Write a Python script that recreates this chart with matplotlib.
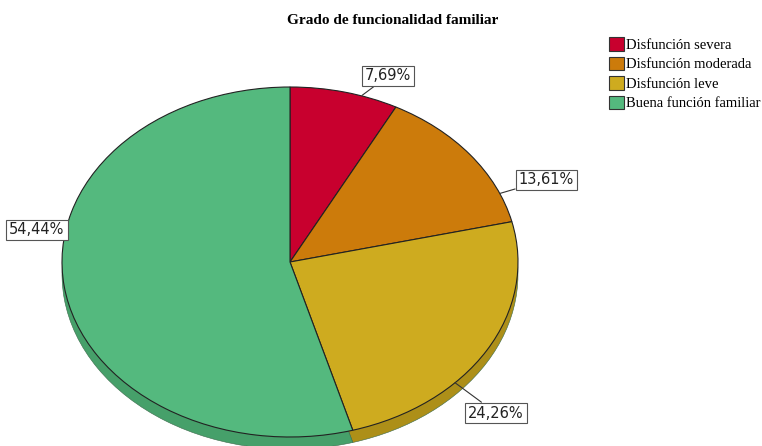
import matplotlib.pyplot as plt
from matplotlib.patches import Patch

categories = ["Disfunción severa", "Disfunción moderada", "Disfunción leve", "Buena función familiar"]
percentages = [7.69, 13.61, 24.26, 54.44]
label_texts = ["7,69%", "13,61%", "24,26%", "54,44%"]

colors = ["#C8002E", "#CC7B0B", "#CEAB1F", "#54B97E"]
side_colors = ["#9A0023", "#A66108", "#AD8F18", "#46A06A"]

# label box centres and leader start points, in pie units (radius 1)
label_pos = [(0.43, 1.063), (1.123, 0.469), (0.904, -0.863), (-1.11, 0.183)]
leader_pos = [(0.316, 0.952), (0.921, 0.392), (0.724, -0.69), (-1.0, 0.154)]

fig = plt.figure(figsize=(7.62, 4.46), dpi=100)
W, H = 762, 446
# ellipse: centre (290, 262) px, rx 228, ry 175
ax = fig.add_axes([62 / W, (H - 437) / H, 456 / W, 350 / H])

depth = 0.07
side, _ = ax.pie(percentages, colors=side_colors, startangle=90, counterclock=False,
                 center=(0, -depth), radius=1,
                 wedgeprops=dict(edgecolor="#3a6a4a", linewidth=0.4))
top, _ = ax.pie(percentages, colors=colors, startangle=90, counterclock=False,
                radius=1, wedgeprops=dict(edgecolor="#222222", linewidth=0.8))
for w in side + top:
    w.set_clip_on(False)

ax.set_aspect("auto")
ax.set_xlim(-1, 1)
ax.set_ylim(-1, 1)
ax.axis("off")

for txt, lp, sp in zip(label_texts, label_pos, leader_pos):
    ax.annotate(txt, xy=sp, xytext=lp, ha="center", va="center", fontsize=10.5,
                color="#222222", annotation_clip=False,
                bbox=dict(boxstyle="square,pad=0.2", fc="white", ec="#555555", lw=0.8),
                arrowprops=dict(arrowstyle="-", color="#333333", lw=0.8,
                                shrinkA=0, shrinkB=0))

fig.text(393 / W, 1 - 20 / H, "Grado de funcionalidad familiar", ha="center", va="center",
         fontsize=11, fontweight="bold", family="Liberation Serif")

handles = [Patch(facecolor=c, edgecolor="#333333", lw=0.8) for c in colors]
fig.legend(handles, categories, loc="upper left", bbox_to_anchor=(609 / W, 1 - 37 / H),
           frameon=False, prop={"family": "Liberation Serif", "size": 10.5},
           handlelength=1.05, handleheight=1.05, handletextpad=0.1,
           labelspacing=0.33, borderpad=0, borderaxespad=0)

fig.savefig("out.png", dpi=100)
